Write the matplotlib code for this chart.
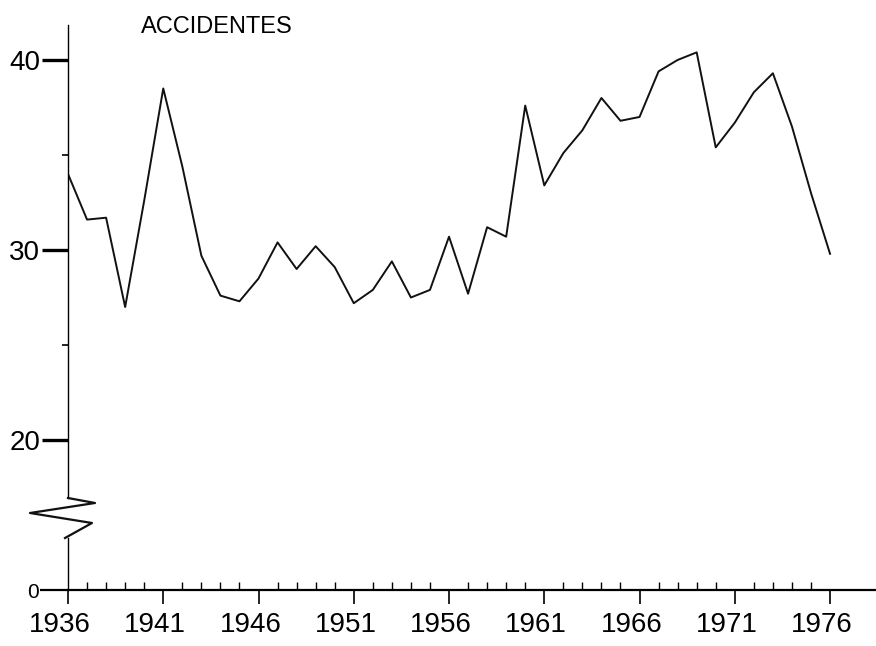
import matplotlib
matplotlib.use("Agg")
import matplotlib.pyplot as plt
import matplotlib.transforms as mtransforms
from matplotlib.lines import Line2D

# Accidentes por año
years = list(range(1936, 1977))
accidents = [
    34.0, 31.6, 31.7, 27.0, 32.6, 38.5, 34.4, 29.7, 27.6, 27.3,
    28.5, 30.4, 29.0, 30.2, 29.1, 27.2, 27.9, 29.4, 27.5, 27.9,
    30.7, 27.7, 31.2, 30.7, 37.6, 33.4, 35.1, 36.3, 38.0, 36.8,
    37.0, 39.4, 40.0, 40.4, 35.4, 36.7, 38.3, 39.3, 36.5, 33.0,
    29.8,
]
major_years = list(range(1936, 1977, 5))
y_major = [20, 30, 40]
y_minor = [25, 35]

W, H = 876, 646
FONT = "Liberation Sans"


def fx(px):
    return px / W


def fy(py):
    return 1 - py / H


def main():
    fig = plt.figure(figsize=(W / 100, H / 100), dpi=100)
    fig.patch.set_facecolor("white")

    xlim = (1936, 1978.36)

    # upper part of the broken axis
    ax = fig.add_axes([fx(68), fy(498), fx(875 - 68), (498 - 25) / H])
    ax.plot(years, accidents, color="#111111", linewidth=1.4)
    ax.set_xlim(*xlim)
    ax.set_ylim(16.95, 41.84)
    for s in ["top", "right", "bottom"]:
        ax.spines[s].set_visible(False)
    ax.spines["left"].set_linewidth(1.0)
    ax.set_xticks([])
    ax.set_yticks(y_major)
    ax.set_yticks(y_minor, minor=True)
    ax.set_yticklabels([str(v) for v in y_major], fontsize=20, family=FONT)
    ax.tick_params(axis="y", which="major", length=19, width=2.4, pad=1)
    ax.tick_params(axis="y", which="minor", length=4, width=1.2)
    ax.text(0.1846, 0.996, "ACCIDENTES", transform=ax.transAxes,
            ha="center", va="center", fontsize=17, family=FONT)

    # lower part with the zero line
    ax0 = fig.add_axes([fx(68), fy(590), fx(875 - 68), (590 - 538) / H])
    ax0.set_xlim(*xlim)
    ax0.set_ylim(0, 2.74)
    for s in ["top", "right"]:
        ax0.spines[s].set_visible(False)
    ax0.spines["left"].set_linewidth(1.0)
    ax0.spines["bottom"].set_linewidth(1.6)
    ax0.set_yticks([0])
    ax0.set_yticklabels(["0"], fontsize=15, family=FONT)
    ax0.tick_params(axis="y", length=20, width=1.6, pad=1)
    ax0.set_xticks(major_years)
    ax0.set_xticks(years, minor=True)
    ax0.set_xticklabels([str(y) for y in major_years], fontsize=20, family=FONT)
    ax0.tick_params(axis="x", which="major", direction="out",
                    length=10, width=1.2, pad=6)
    ax0.tick_params(axis="x", which="minor", direction="in",
                    length=6, width=1.0)
    shift = mtransforms.ScaledTranslation(-8 / 100, 0, fig.dpi_scale_trans)
    for lab in ax0.get_xticklabels():
        lab.set_transform(lab.get_transform() + shift)

    # zigzag break mark on the y axis
    zx = [68, 95, 30, 92, 65]
    zy = [498, 503, 513, 523, 538]
    fig.add_artist(Line2D([fx(p) for p in zx], [fy(p) for p in zy],
                          color="#111111", linewidth=1.6))

    fig.savefig("out.png", dpi=100)
    plt.close(fig)


if __name__ == "__main__":
    main()
